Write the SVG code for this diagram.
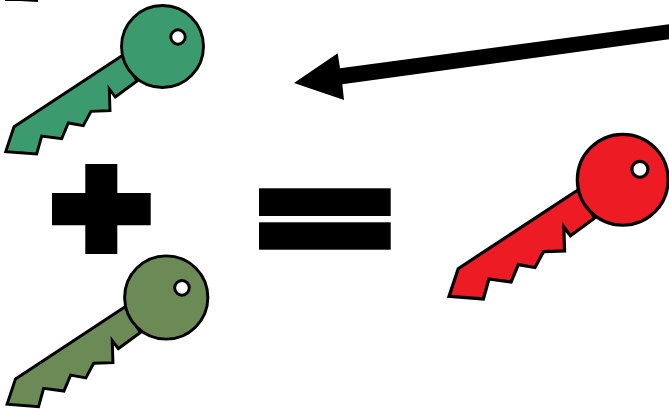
<svg xmlns="http://www.w3.org/2000/svg" width="669" height="409" viewBox="0 0 669 409">
<style>
.k{stroke:#000;stroke-width:2.9;stroke-linejoin:miter}
.h{fill:#fff}
.b{fill:#000}
</style>
<defs>
<g id="key" class="k">
<path d="M122 55.7L14 126.7L5.7 151.7L36.7 154L41.7 136L61.7 138.7L68.3 123L83.3 125.7L91 111.3L110 110.7L109.3 89L115.3 97L137 81Z"/>
<circle cx="162.5" cy="46.5" r="41"/>
<circle class="h" cx="178" cy="37" r="7.2"/>
</g>
</defs>
<rect width="669" height="409" fill="#fff"/>
<g id="connectors">
<path id="arrow" class="b" d="M669 24.3L340 68.3L337.7 53.3L294 83L344 100L342.3 84.3L669 39.3Z"/>
</g>
<g id="fragment"><path class="b" d="M5 0H38V1.9L20 0.9H5Z"/></g>
<g id="key-green"><use href="#key" fill="#3B9A6E"/></g>
<g id="plus"><path class="b" d="M85.3 164H117.3V193H150.7V225.3H117.3V254H85.3V225.3H52V193H85.3Z"/></g>
<g id="equals"><rect class="b" x="259" y="188.3" width="131.7" height="27.7"/><rect class="b" x="259" y="222.3" width="131.7" height="27.4"/></g>
<g id="key-olive"><use href="#key" fill="#6B8A56" transform="translate(1.3 250.3) scale(1.015)"/></g>
<g id="key-red"><use href="#key" fill="#ED1C24" transform="translate(442.7 128.3) scale(1.108)"/></g>
</svg>
